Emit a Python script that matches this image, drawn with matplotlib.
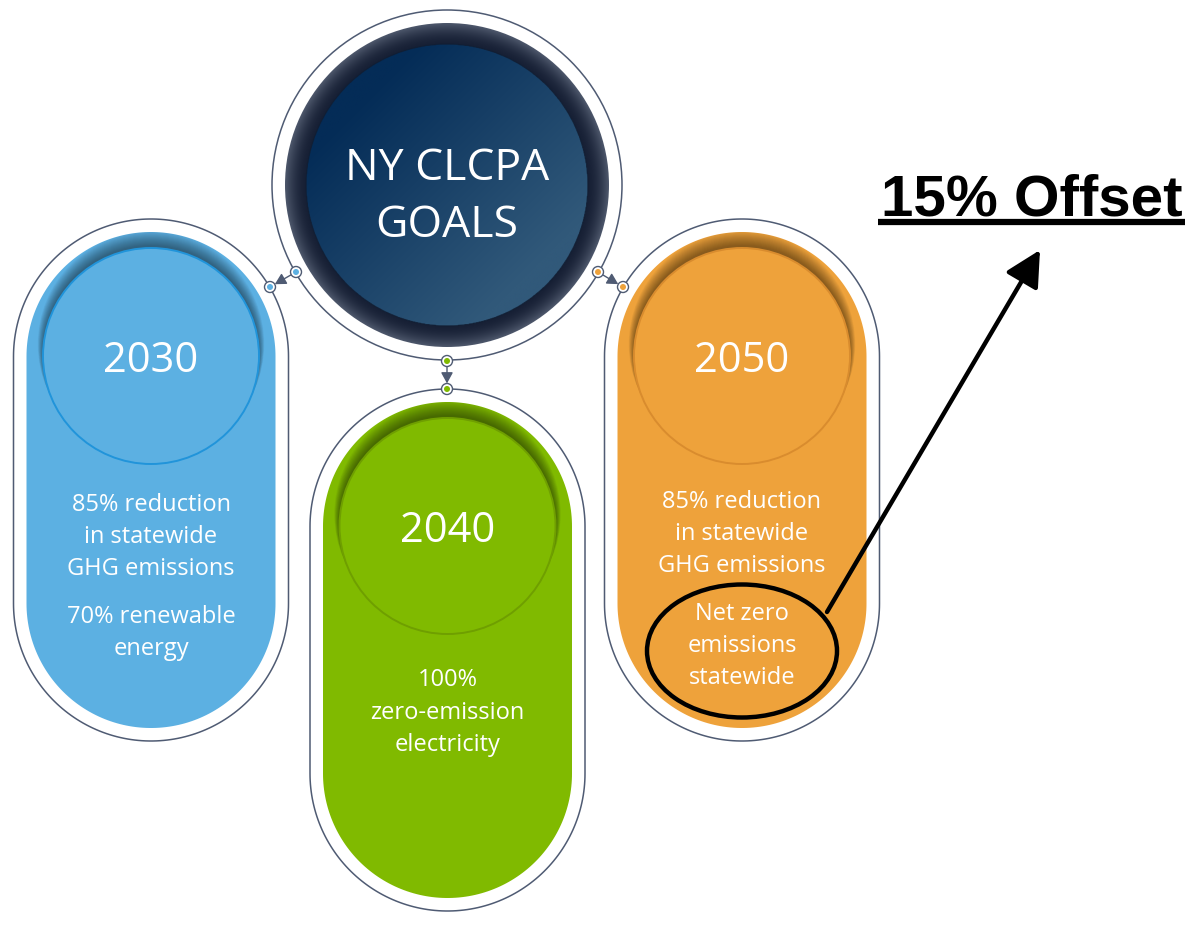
import numpy as np
import matplotlib.pyplot as plt
from matplotlib.patches import Circle, Polygon, Ellipse, FancyArrowPatch
from matplotlib.colors import to_rgb

# ── data ────────────────────────────────────────────────────
title_lines = ["NY CLCPA", "GOALS"]
years = ["2030", "2040", "2050"]
goal_lines = [
    ["85% reduction", "in statewide", "GHG emissions", "70% renewable", "energy"],
    ["100%", "zero-emission", "electricity"],
    ["85% reduction", "in statewide", "GHG emissions", "Net zero", "emissions", "statewide"],
]
fill_colors = ["#5cb0e2", "#80ba00", "#eea23b"]
rim_colors = ["#2194da", "#6f9f00", "#d98c2e"]
callout = "15% Offset"

# ── layout (pixels, y downwards) ────────────────────────────
W, H = 1203, 926
pill_cx = [151, 447.5, 742]
pill_top = [219, 389, 219]
PILL_W, PILL_H = 275, 522
INSET = 13
CIRC_R = 108
CIRC_GAP = 16
line_y = [[503, 535, 567, 615, 647], [678, 711, 743], [500, 532, 564, 612, 644, 676]]
OUTLINE = "#4f5b73"
BODY_FONT = "Open Sans"


def stadium(cx, top, w, h, n=120, **kw):
    # pill shape: two true semicircles joined by straight sides
    r = w / 2
    t1 = np.linspace(np.pi, 0, n)
    t2 = np.linspace(0, -np.pi, n)
    xs = np.concatenate([cx + r * np.cos(t1), cx + r * np.cos(t2)])
    ys = np.concatenate([top + r - r * np.sin(t1), top + h - r - r * np.sin(t2)])
    return Polygon(np.column_stack([xs, ys]), closed=True, **kw)


fig = plt.figure(figsize=(W / 100, H / 100), dpi=100)
ax = fig.add_axes([0, 0, 1, 1])
ax.set_xlim(0, W)
ax.set_ylim(H, 0)
ax.axis("off")

# ── 1. pills ────────────────────────────────────────────────
for i, yr in enumerate(years):
    cx, top = pill_cx[i], pill_top[i]
    ax.add_patch(stadium(cx, top, PILL_W, PILL_H, fc="white", ec=OUTLINE, lw=1.1, zorder=1))
    fill = stadium(cx, top + INSET, PILL_W - 2 * INSET, PILL_H - 2 * INSET,
                   fc=fill_colors[i], ec="none", zorder=2)
    ax.add_patch(fill)

    cy = top + INSET + CIRC_GAP + CIRC_R
    # soft shadow above the year circle
    for k in range(16):
        sh = Circle((cx, cy - 3 - k * 0.6), CIRC_R + k * 0.35,
                    fc="black", ec="none", alpha=0.03, zorder=3)
        ax.add_patch(sh)
        sh.set_clip_path(fill)
    ax.add_patch(Circle((cx, cy), CIRC_R, fc=fill_colors[i], ec=rim_colors[i],
                        lw=1.4, zorder=4))
    ax.text(cx, cy + 16, yr, ha="center", va="baseline", color="white",
            fontsize=30, family=BODY_FONT, zorder=5)
    for txt, y in zip(goal_lines[i], line_y[i]):
        ax.text(cx, y + 8, txt, ha="center", va="baseline", color="white",
                fontsize=17, family=BODY_FONT, zorder=5)

# ── 2. central title circle ─────────────────────────────────
tcx, tcy = 447, 185
R_OUT, R_RING, R_IN = 175, 162, 141
ax.add_patch(Circle((tcx, tcy), R_OUT, fc="white", ec=OUTLINE, lw=1.1, zorder=6))

n = 500
xs = np.linspace(tcx - R_RING, tcx + R_RING, n)
ys = np.linspace(tcy - R_RING, tcy + R_RING, n)
X, Y = np.meshgrid(xs, ys)
D = np.hypot(X - tcx, Y - tcy)
t = np.clip(((X - tcx) + (Y - tcy)) / (2 * R_IN * 1.2) + 0.5, 0, 1)
c0, c1 = np.array(to_rgb("#042c57")), np.array(to_rgb("#31597a"))
img = c0 + (c1 - c0) * t[..., None]
u = np.clip((D - R_IN) / (R_RING - R_IN), 0, 1)
r0, r1 = np.array(to_rgb("#172035")), np.array(to_rgb("#4d576b"))
ring = r0 + (r1 - r0) * (u ** 1.8)[..., None]
img = np.where((D > R_IN)[..., None], ring, img)
im = ax.imshow(img, extent=(xs[0], xs[-1], ys[-1], ys[0]), zorder=7,
               interpolation="bilinear")
im.set_clip_path(Circle((tcx, tcy), R_RING, transform=ax.transData))
ax.add_patch(Circle((tcx, tcy), R_IN, fc="none", ec="#0f1c30", lw=0.8, alpha=0.6, zorder=8))

for txt, base in zip(title_lines, [180, 237]):
    ax.text(tcx, base, txt, ha="center", va="baseline", color="white",
            fontsize=32, family=BODY_FONT, zorder=9)

# ── 3. connector dots with small arrows ─────────────────────
links = [((296, 272), (270, 287)), ((447, 361), (447, 389)), ((598, 272), (623, 287))]
for (a, b), col in zip(links, fill_colors):
    ax.add_patch(FancyArrowPatch(a, b, arrowstyle="-|>,head_length=0.55,head_width=0.3",
                                 mutation_scale=12, color=OUTLINE, lw=1.0,
                                 shrinkA=4, shrinkB=4, zorder=10))
    for p in (a, b):
        ax.add_patch(Circle(p, 5.5, fc="white", ec=OUTLINE, lw=1.0, zorder=11))
        ax.add_patch(Circle(p, 3.0, fc=col, ec="none", zorder=12))

# ── 4. callout ellipse + arrow ──────────────────────────────
ax.add_patch(Ellipse((742, 651), 190, 133, fc="none", ec="black", lw=3.2, zorder=13))
ax.add_patch(FancyArrowPatch((827, 612), (1040, 250),
                             arrowstyle="-|>,head_length=1.08,head_width=0.56",
                             mutation_scale=20, color="black", lw=3.2,
                             shrinkA=0, shrinkB=0, zorder=13))
ax.text(1031.5, 215, callout, ha="center", va="baseline", color="black",
        fontsize=42, fontweight="bold", family="Liberation Sans", zorder=13)
ax.plot([878, 1185], [221.5, 221.5], color="black", lw=4.5,
        solid_capstyle="butt", zorder=13)

ax.set_xlim(0, W)
ax.set_ylim(H, 0)
fig.savefig("out.png", dpi=100, facecolor="white")
